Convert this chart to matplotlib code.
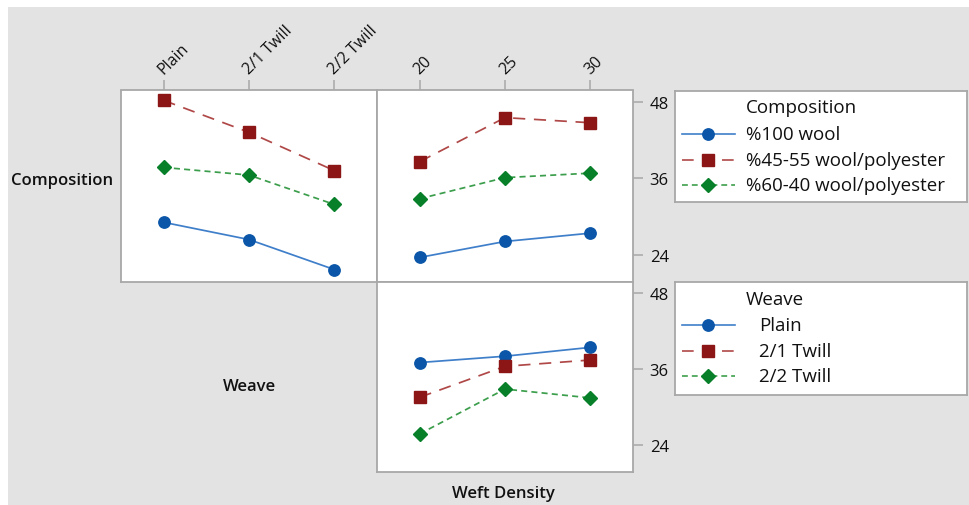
import matplotlib
matplotlib.use("Agg")
import matplotlib.pyplot as plt
from matplotlib.patches import Rectangle
from matplotlib.lines import Line2D

plt.rcParams['font.family'] = ['Open Sans', 'DejaVu Sans']

weave = ["Plain", "2/1 Twill", "2/2 Twill"]
weft = [20, 25, 30]
composition = ["%100 wool", "%45-55 wool/polyester", "%60-40 wool/polyester"]

# composition means across weave types
wool100_weave = [29.1, 26.4, 21.7]
wool4555_weave = [48.2, 43.2, 37.2]
wool6040_weave = [37.7, 36.5, 31.9]

# composition means across weft density
wool100_weft = [23.6, 26.1, 27.4]
wool4555_weft = [38.6, 45.5, 44.7]
wool6040_weft = [32.8, 36.1, 36.8]

# weave means across weft density
plain_weft = [37.0, 38.0, 39.4]
twill21_weft = [31.5, 36.4, 37.4]
twill22_weft = [25.7, 32.8, 31.4]

yticks = [24, 36, 48]

W, H = 969, 506
fig = plt.figure(figsize=(W / 100, H / 100), dpi=100, facecolor="white")
fig.patches.append(Rectangle((8 / W, 0), 1, (H - 8) / H, transform=fig.transFigure,
                             facecolor="#e3e3e3", edgecolor="none", zorder=-10))

styles = [
    dict(color="#0b56a8", ls="-", marker="o", ms=8.2, line="#3f7fca", dashes=None),
    dict(color="#8c1515", ls="--", marker="s", ms=8.0, line="#b04848", dashes=(7, 5)),
    dict(color="#08802a", ls="--", marker="D", ms=7.6, line="#3c9e4c", dashes=(3.5, 2.4)),
]

frame = "#a8a8a8"
ink = "#111111"


def px_axes(x0, y0, x1, y1):
    return fig.add_axes([x0 / W, 1 - y1 / H, (x1 - x0) / W, (y1 - y0) / H])


def plot_series(ax, x, series):
    for vals, st in zip(series, styles):
        line, = ax.plot(x, vals, color=st["line"], lw=1.25, ls=st["ls"],
                        marker=st["marker"], ms=st["ms"], mfc=st["color"], mec=st["color"])
        if st["dashes"]:
            line.set_dashes(st["dashes"])


def style_panel(ax):
    ax.set_facecolor("white")
    for s in ax.spines.values():
        s.set_color(frame)
        s.set_linewidth(1.3)
    ax.set_ylim(19.75, 49.75)
    ax.tick_params(colors=frame, labelcolor=ink, width=1.1, length=7, labelsize=12, pad=5)


def top_labels(ax, labels):
    ax.xaxis.tick_top()
    ax.set_xticklabels(labels, rotation=45, ha="left", va="baseline",
                       rotation_mode="anchor", fontsize=11.5)


# top-left: composition by weave
ax1 = px_axes(121, 91.5, 377, 283)
plot_series(ax1, range(len(weave)), [wool100_weave, wool4555_weave, wool6040_weave])
style_panel(ax1)
ax1.set_xlim(-0.5, 2.5)
ax1.set_xticks(range(len(weave)))
top_labels(ax1, weave)
ax1.set_yticks([])

# top-right: composition by weft density
ax2 = px_axes(377, 91.5, 633, 283)
plot_series(ax2, weft, [wool100_weft, wool4555_weft, wool6040_weft])
style_panel(ax2)
ax2.set_xlim(17.5, 32.5)
ax2.set_xticks(weft)
top_labels(ax2, [str(v) for v in weft])
ax2.yaxis.tick_right()
ax2.set_yticks(yticks)

# bottom-right: weave by weft density
ax3 = px_axes(377, 283, 633, 472.5)
plot_series(ax3, weft, [plain_weft, twill21_weft, twill22_weft])
style_panel(ax3)
ax3.set_xlim(17.5, 32.5)
ax3.set_xticks([])
ax3.yaxis.tick_right()
ax3.set_yticks(yticks)

lab = dict(fontsize=12, fontweight="semibold", color=ink, ha="center", va="center")
fig.text(62 / W, 1 - 181 / H, "Composition", **lab)
fig.text(249 / W, 1 - 387 / H, "Weave", **lab)
fig.text(503 / W, 1 - 494 / H, "Weft Density", **lab)


def legend_box(y0, y1, title, labels, rows, text_x):
    lg = px_axes(675, y0, 967, y1)
    lg.set_xlim(0, 292)
    lg.set_ylim(y1 - y0, 0)
    lg.set_xticks([])
    lg.set_yticks([])
    lg.set_facecolor("white")
    for s in lg.spines.values():
        s.set_color(frame)
        s.set_linewidth(1.3)
    lg.text(71, rows[0], title, fontsize=13.5, va="center", color=ink)
    for lbl, y, st in zip(labels, rows[1:], styles):
        h = Line2D([7, 60], [y, y], color=st["line"], lw=1.2, ls=st["ls"])
        if st["dashes"]:
            h.set_dashes(st["dashes"])
        lg.add_line(h)
        lg.plot([33], [y], marker=st["marker"], ms=st["ms"], color=st["color"], ls="none")
        lg.text(text_x, y, lbl, fontsize=13.5, va="center", color=ink)


legend_box(92, 203, "Composition", composition, [16, 43, 69, 94], 71)
legend_box(283, 396, "Weave", weave, [17, 43, 69, 94], 84)

fig.savefig("out.png", dpi=100, facecolor="white")
